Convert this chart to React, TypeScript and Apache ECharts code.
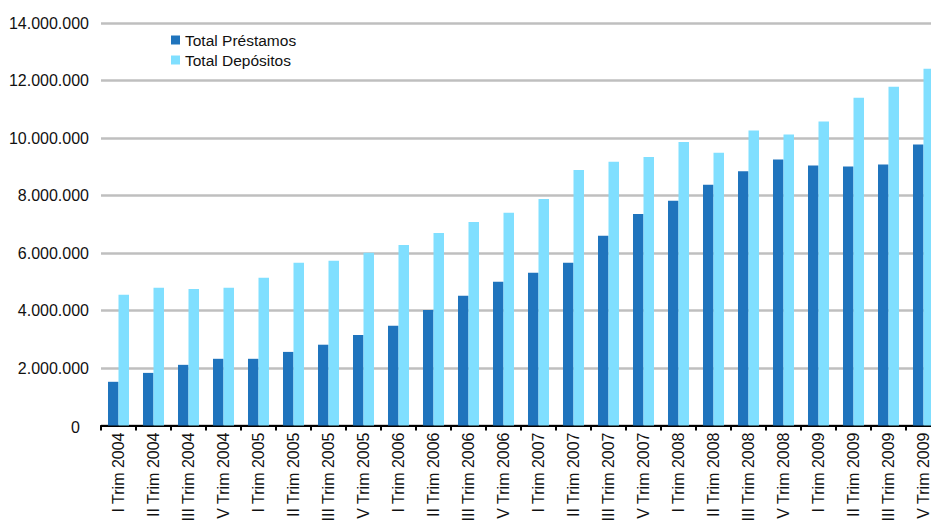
import React, { useEffect, useRef } from "react";
import * as echarts from "echarts";

const categories = [
  "I Trim 2004", "II Trim 2004", "III Trim 2004", "IV Trim 2004",
  "I Trim 2005", "II Trim 2005", "III Trim 2005", "IV Trim 2005",
  "I Trim 2006", "II Trim 2006", "III Trim 2006", "IV Trim 2006",
  "I Trim 2007", "II Trim 2007", "III Trim 2007", "IV Trim 2007",
  "I Trim 2008", "II Trim 2008", "III Trim 2008", "IV Trim 2008",
  "I Trim 2009", "II Trim 2009", "III Trim 2009", "IV Trim 2009",
];

const prestamos = [
  1520000, 1830000, 2110000, 2320000,
  2320000, 2560000, 2810000, 3150000,
  3470000, 4020000, 4510000, 5000000,
  5310000, 5660000, 6600000, 7360000,
  7820000, 8370000, 8840000, 9250000,
  9040000, 9010000, 9080000, 9770000,
];

const depositos = [
  4550000, 4790000, 4750000, 4790000,
  5140000, 5660000, 5730000, 6010000,
  6280000, 6700000, 7080000, 7400000,
  7880000, 8890000, 9170000, 9340000,
  9860000, 9490000, 10260000, 10120000,
  10570000, 11400000, 11780000, 12410000,
];

const seriesNames = ["Total Préstamos", "Total Depósitos"];
const yMin = 0;
const yMax = 14000000;
const yInterval = 2000000;

const fmt = (v: number) => String(v).replace(/\B(?=(\d{3})+(?!\d))/g, ".");

export default function App() {
  const ref = useRef<HTMLDivElement>(null);
  useEffect(() => {
    const chart = echarts.init(ref.current!, null, { renderer: "svg" });
    const font = "'Liberation Sans', Arial, sans-serif";
    chart.setOption({
      animation: false,
      backgroundColor: "#ffffff",
      textStyle: { fontFamily: font },
      legend: {
        orient: "vertical",
        left: 171,
        top: 31,
        padding: 0,
        itemWidth: 9,
        itemHeight: 9,
        itemGap: 2,
        icon: "rect",
        textStyle: { fontSize: 15.5, lineHeight: 18, color: "#111", fontFamily: font },
        data: seriesNames,
      },
      grid: { left: 101, top: 23, width: 840, height: 402.5, containLabel: false },
      xAxis: {
        type: "category",
        data: categories,
        boundaryGap: true,
        axisLine: { show: true, lineStyle: { color: "#000", width: 2 } },
        axisTick: { show: true, length: 5, lineStyle: { color: "#000", width: 2 } },
        axisLabel: {
          interval: 0,
          rotate: 90,
          margin: 7,
          fontSize: 16,
          color: "#111",
          fontFamily: font,
        },
        splitLine: { show: false },
      },
      yAxis: {
        type: "value",
        min: yMin,
        max: yMax,
        interval: yInterval,
        axisLine: { show: false },
        axisTick: { show: false },
        axisLabel: {
          margin: 12,
          fontSize: 16,
          color: "#111",
          fontFamily: font,
          formatter: (v: number) => (v === 0 ? "{z|0}" : fmt(v)),
          rich: {
            z: {
              fontSize: 16,
              fontFamily: font,
              color: "#111",
              padding: [3, 9, 0, 0],
            },
          },
        },
        splitLine: { show: true, lineStyle: { color: "#bfbfbf", width: 2.5 } },
      },
      series: [
        {
          name: seriesNames[0],
          type: "bar",
          data: prestamos,
          barWidth: 10.5,
          barGap: "0%",
          itemStyle: { color: "#1f74bd" },
        },
        {
          name: seriesNames[1],
          type: "bar",
          data: depositos,
          barWidth: 10.5,
          barGap: "0%",
          itemStyle: { color: "#80dfff" },
        },
      ],
    });
    return () => chart.dispose();
  }, []);
  return (
    <div
      style={{
        position: "fixed",
        left: 0,
        top: 0,
        width: 931,
        height: 520,
        overflow: "hidden",
        background: "#fff",
      }}
    >
      <div ref={ref} style={{ width: 960, height: 560 }} />
    </div>
  );
}
